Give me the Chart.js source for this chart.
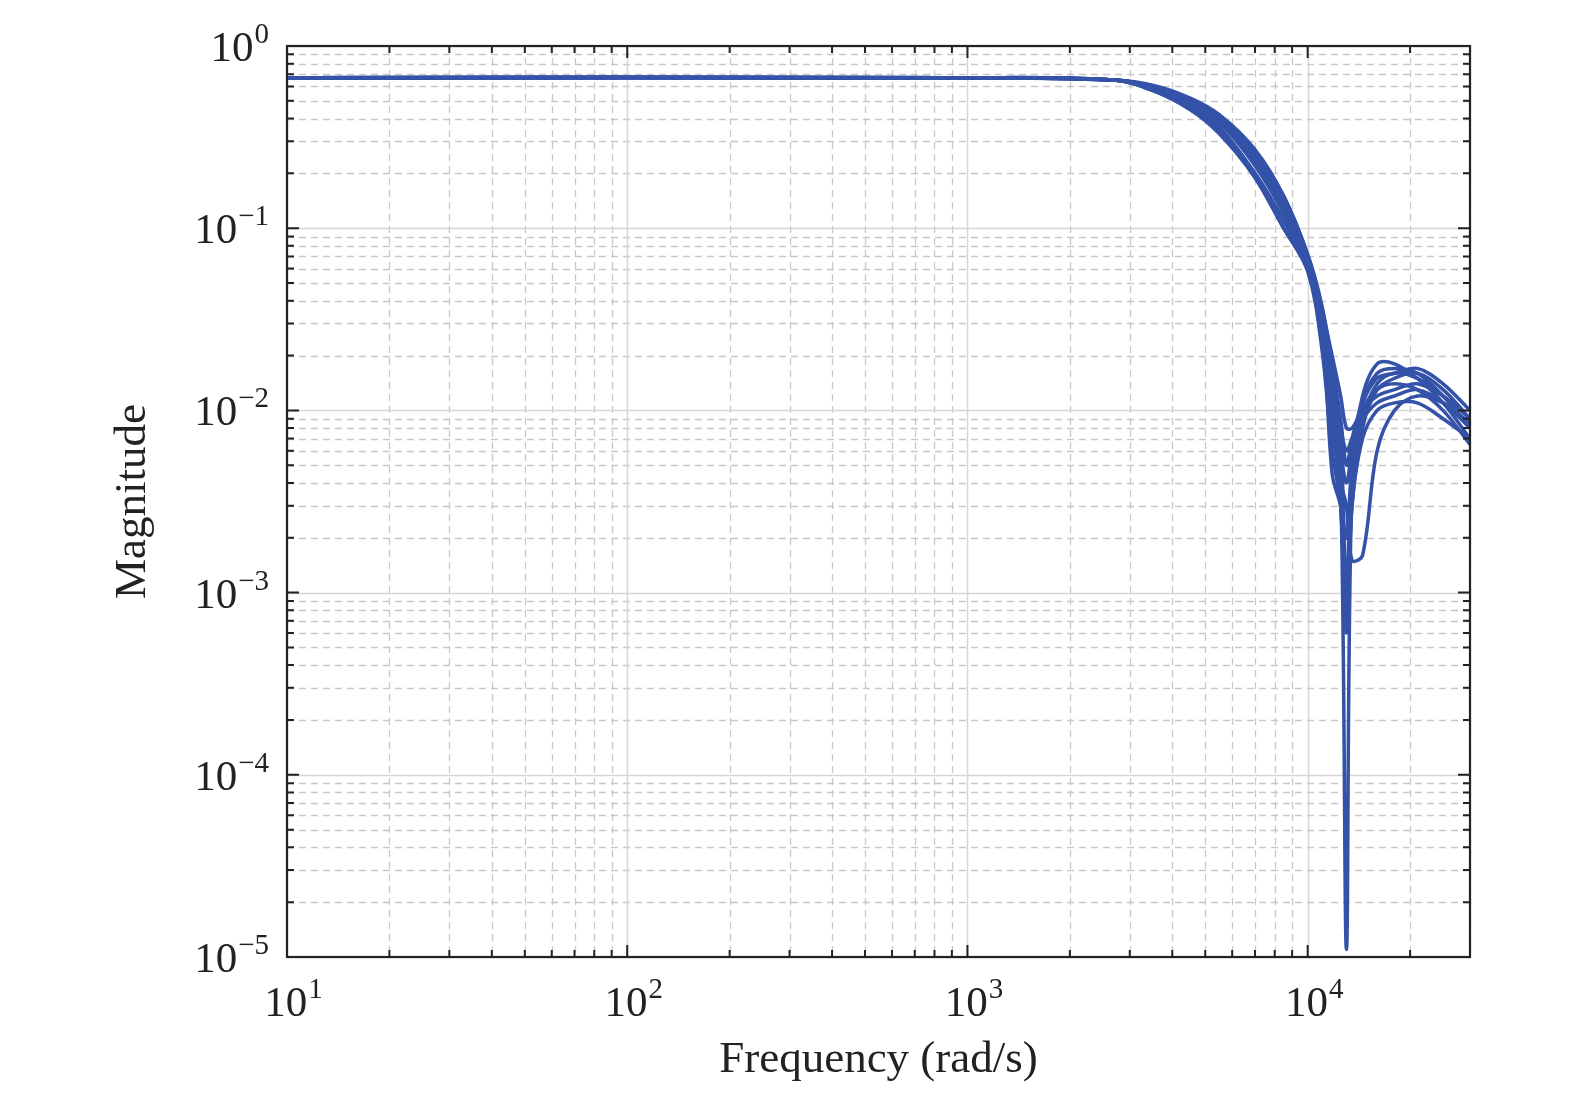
<!DOCTYPE html>
<html><head><meta charset="utf-8">
<script src="https://cdn.jsdelivr.net/npm/chart.js@4"></script>
<style>html,body{margin:0;padding:0;background:#fff}#w{width:1575px;height:1102px}</style>
</head><body><div id="w"><canvas id="c"></canvas></div>
<script>
const freq = [10,1000,2700,3500,4500,5500,7000,8500,10000,11000,11800,12500,13000,13500,14500,16000,18000,21000,25000,30000];
const s1 = [.67,.67,.65,.58,.47,.36,.2,.11,.065,.03,.012,.004,1.1e-5,.004,.009,.014,.016,.015,.012,.008];
const s2 = [.67,.67,.65,.6,.5,.4,.25,.14,.07,.028,.01,.003,6e-4,.003,.008,.013,.015,.016,.013,.009];
const s3 = [.67,.67,.65,.57,.45,.33,.19,.10,.06,.025,.008,.004,.003,.0015,.0016,.006,.01,.012,.011,.0085];
const s4 = [.67,.67,.65,.59,.48,.38,.22,.12,.062,.03,.0045,.003,.002,.005,.011,.016,.017,.016,.012,.008];
const s5 = [.67,.67,.65,.61,.52,.42,.27,.15,.07,.035,.015,.007,.001,.005,.012,.018,.018,.015,.011,.007];
const s6 = [.67,.67,.65,.58,.46,.35,.2,.11,.06,.03,.013,.006,.004,.006,.01,.013,.014,.013,.01,.0065];
const s7 = [.67,.67,.65,.6,.51,.41,.26,.15,.072,.038,.018,.009,.005,.007,.011,.015,.016,.017,.014,.01];
const s8 = [.67,.67,.65,.57,.45,.34,.19,.1,.058,.022,.006,.003,.0007,.003,.007,.01,.011,.011,.009,.007];
const s9 = [.67,.67,.65,.59,.49,.39,.23,.13,.066,.032,.014,.008,.006,.007,.009,.011,.012,.013,.011,.008];
const s10 = [.67,.67,.65,.6,.5,.4,.24,.14,.068,.036,.02,.012,.008,.008,.01,.012,.013,.014,.012,.009];
const seriesList = [s1,s2,s3,s4,s5,s6,s7,s8,s9,s10];
const xTickExp = [1,2,3,4];
const yTickExp = [0,-1,-2,-3,-4,-5];
const xTitle = 'Frequency (rad/s)';
const yTitle = 'Magnitude';
const FONT = '"Liberation Serif", "Times New Roman", serif';
const sup = s => String(s).replace('-', '\u2212');

const datasets = seriesList.map(s => ({
  data: freq.map((f,i)=>({x:f,y:s[i]})),
  borderColor:'#3352a8', borderWidth:3.5, pointRadius:0, tension:0.35, fill:false
}));

const deco = {
  id:'deco',
  beforeDatasetsDraw(ch){
    const {ctx, chartArea:a, scales:{x,y}} = ch;
    ctx.save();
    ctx.lineWidth=1.3;
    ctx.strokeStyle='#c8c8c8'; ctx.setLineDash([7,5]);
    for(let e=1;e<=4;e++) for(let m=2;m<=9;m++){const v=m*10**e; if(v>30000) break; const p=Math.round(x.getPixelForValue(v))+.5; ctx.beginPath();ctx.moveTo(p,a.top);ctx.lineTo(p,a.bottom);ctx.stroke();}
    for(let e=-5;e<0;e++) for(let m=2;m<=9;m++){const p=Math.round(y.getPixelForValue(m*10**e))+.5; ctx.beginPath();ctx.moveTo(a.left,p);ctx.lineTo(a.right,p);ctx.stroke();}
    ctx.setLineDash([]); ctx.strokeStyle='#d6d6d6'; ctx.lineWidth=1.5;
    xTickExp.forEach(e=>{const p=Math.round(x.getPixelForValue(10**e))+.5;ctx.beginPath();ctx.moveTo(p,a.top);ctx.lineTo(p,a.bottom);ctx.stroke();});
    yTickExp.forEach(e=>{const p=Math.round(y.getPixelForValue(10**e))+.5;ctx.beginPath();ctx.moveTo(a.left,p);ctx.lineTo(a.right,p);ctx.stroke();});
    ctx.restore();
  },
  afterDatasetsDraw(ch){
    const {ctx, chartArea:a, scales:{x,y}} = ch;
    ctx.save();
    ctx.strokeStyle='#222'; ctx.lineWidth=2;
    const tk=(px,len,vert)=>{ if(vert){ctx.beginPath();ctx.moveTo(px,a.bottom);ctx.lineTo(px,a.bottom-len);ctx.moveTo(px,a.top);ctx.lineTo(px,a.top+len);ctx.stroke();}
      else {ctx.beginPath();ctx.moveTo(a.left,px);ctx.lineTo(a.left+len,px);ctx.moveTo(a.right,px);ctx.lineTo(a.right-len,px);ctx.stroke();}};
    for(let e=1;e<=4;e++) for(let m=1;m<=9;m++){const v=m*10**e; if(v>30000) break; tk(x.getPixelForValue(v), m===1?12:7, true);}
    for(let e=-5;e<=0;e++) for(let m=1;m<=9;m++){const v=m*10**e; if(v>1) break; tk(y.getPixelForValue(v), m===1?12:7, false);}
    ctx.lineWidth=2.2; ctx.strokeRect(a.left,a.top,a.right-a.left,a.bottom-a.top);
    ctx.fillStyle='#222';
    const lab=(e,px,py,align)=>{
      ctx.font='43px '+FONT; const w1=ctx.measureText('10').width;
      ctx.font='29px '+FONT; const w2=ctx.measureText(sup(e)).width;
      let x0 = align==='center'? px-(w1+w2)/2 : px-(w1+w2);
      ctx.textAlign='left'; ctx.textBaseline='alphabetic';
      ctx.font='43px '+FONT; ctx.fillText('10',x0,py);
      ctx.font='29px '+FONT; ctx.fillText(sup(e),x0+w1+1,py-18);
    };
    xTickExp.forEach(e=>lab(e,x.getPixelForValue(10**e)+6,1016,'center'));
    yTickExp.forEach(e=>lab(e,268,y.getPixelForValue(10**e)+15,'right'));
    ctx.restore();
    ctx.save();
    ctx.fillStyle='#222'; ctx.font='45px '+FONT; ctx.textAlign='center'; ctx.textBaseline='middle';
    ctx.fillText(xTitle,(a.left+a.right)/2,1060);
    ctx.translate(133,(a.top+a.bottom)/2); ctx.rotate(-Math.PI/2); ctx.fillText(yTitle,0,0);
    ctx.restore();
  }
};
new Chart(document.getElementById('c'),{
  type:'line', data:{datasets},
  options:{responsive:true,maintainAspectRatio:false,animation:false,
    layout:{padding:{top:46,right:105,left:0,bottom:0}},
    plugins:{legend:{display:false},tooltip:{enabled:false}},
    scales:{
      x:{type:'logarithmic',min:10,max:30000,grid:{display:false},border:{display:false},ticks:{display:false},afterFit:s=>{s.height=145;}},
      y:{type:'logarithmic',min:1e-5,max:1,grid:{display:false},border:{display:false},ticks:{display:false},afterFit:s=>{s.width=287;}}
    }
  },
  plugins:[deco]
});
</script>
</body></html>
